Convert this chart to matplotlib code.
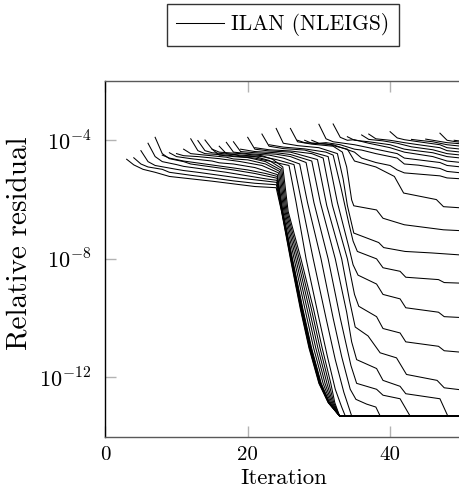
import matplotlib
matplotlib.use("Agg")
import matplotlib.pyplot as plt
from matplotlib.lines import Line2D

plt.rcParams["font.family"] = "cmr10"
plt.rcParams["mathtext.fontset"] = "cm"
plt.rcParams["axes.formatter.use_mathtext"] = True

# each curve: [iteration, log10(relative residual)] knots
curves_fast = [
    [[3, -4.64], [4, -4.83], [5.3, -4.98], [7, -5.08], [9, -5.22], [12, -5.3], [15, -5.38], [18, -5.47], [21, -5.56], [24.0, -5.6], [24.75, -6.4], [26.0, -8.0], [27.4, -9.7], [28.6, -11.0], [30.0, -12.2], [31.3, -12.85], [32.9, -13.3]],
    [[4, -4.59], [5, -4.8], [6, -4.9], [8, -4.98], [9, -5.08], [12, -5.18], [15, -5.27], [18, -5.37], [21, -5.45], [24.03, -5.5], [24.78, -6.4], [26.05, -8.0], [27.46, -9.7], [28.66, -11.0], [30.05, -12.2], [31.33, -12.85], [32.9, -13.3]],
    [[5, -4.35], [6, -4.72], [7, -4.85], [10, -4.98], [11, -5.02], [13, -5.08], [16, -5.18], [19, -5.28], [22, -5.36], [24.06, -5.42], [24.81, -6.4], [26.1, -8.0], [27.52, -9.7], [28.72, -11.0], [30.11, -12.2], [31.36, -12.85], [32.9, -13.3]],
    [[6, -4.10], [7, -4.55], [8, -4.72], [10, -4.82], [11, -4.88], [14, -4.98], [17, -5.08], [20, -5.2], [22.5, -5.3], [24.09, -5.35], [24.84, -6.4], [26.14, -8.0], [27.58, -9.7], [28.78, -11.0], [30.16, -12.2], [31.39, -12.85], [32.9, -13.3]],
    [[7, -3.90], [8, -4.45], [9, -4.62], [11, -4.72], [12, -4.8], [15, -4.9], [18, -5.0], [21, -5.12], [24.12, -5.28], [24.87, -6.4], [26.19, -8.0], [27.64, -9.7], [28.84, -11.0], [30.22, -12.2], [31.42, -12.85], [32.9, -13.3]],
    [[8, -4.5], [9, -4.6], [11, -4.7], [14, -4.8], [17, -4.9], [20, -5.0], [22.5, -5.12], [24.15, -5.22], [24.9, -6.4], [26.24, -8.0], [27.7, -9.7], [28.9, -11.0], [30.27, -12.2], [31.45, -12.85], [32.9, -13.3]],
    [[9, -4.42], [10, -4.55], [12, -4.62], [15, -4.7], [16, -4.76], [18, -4.8], [21, -4.92], [24.18, -5.16], [24.93, -6.4], [26.29, -8.0], [27.76, -9.7], [28.96, -11.0], [30.32, -12.2], [31.48, -12.85], [32.9, -13.3]],
    [[10, -4.45], [11, -4.52], [13, -4.55], [16, -4.62], [19, -4.72], [22, -4.85], [24.33, -5.1], [25.08, -6.4], [26.52, -8.0], [28.05, -9.7], [29.25, -11.0], [30.59, -12.2], [31.63, -12.85], [32.9, -13.3]],
    [[11, -4.30], [12, -4.45], [14, -4.5], [17, -4.57], [18, -4.63], [20, -4.66], [22.5, -4.8], [24.48, -5.05], [25.23, -6.4], [26.76, -8.0], [28.35, -9.7], [29.55, -11.0], [30.86, -12.2], [31.78, -12.85], [32.9, -13.3]],
    [[12, -3.95], [13, -4.35], [14, -4.45], [17, -4.5], [20, -4.58], [22.5, -4.72], [24.63, -5.0], [25.38, -6.4], [27.0, -8.0], [28.65, -9.7], [29.85, -11.0], [31.13, -12.2], [31.93, -12.85], [32.9, -13.3]],
    [[13, -4.01], [14, -4.35], [15, -4.42], [18, -4.48], [19, -4.53], [21, -4.55], [23, -4.68], [24.78, -4.95], [25.53, -6.4], [27.24, -8.0], [28.95, -9.7], [30.15, -11.0], [31.4, -12.2], [32.08, -12.85], [32.9, -13.3]],
    [[14, -3.99], [15, -4.3], [16, -4.4], [19, -4.45], [22, -4.52], [23.5, -4.64], [24.93, -4.9], [25.68, -6.4], [27.48, -8.0], [29.25, -9.7], [30.45, -11.0], [31.67, -12.2], [32.23, -12.85], [32.9, -13.3]],
]

curves_stairs = [
    [[15, -4.3], [16, -4.5], [18, -4.55], [21, -4.6], [23, -4.7], [25.8, -4.85], [26.8, -6.1], [28.2, -8.0], [30.0, -10.0], [31.2, -11.3], [32.3, -12.4], [33.2, -13.0], [33.7, -13.3]],
    [[16, -4.2], [17, -4.45], [19, -4.5], [22, -4.55], [24, -4.65], [26.5, -4.82], [27.5, -6.0], [29.2, -8.0], [31.0, -10.0], [32.3, -11.4], [33.5, -12.5], [34.6, -13.3]],
    [[17, -4.07], [18, -4.4], [20, -4.45], [23, -4.5], [25, -4.6], [27.3, -4.8], [28.4, -6.1], [30.3, -8.0], [32.0, -10.0], [33.2, -11.3], [34.4, -12.4], [35.2, -12.74], [36.7, -12.9], [38.0, -13.0], [38.6, -13.3]],
    [[18, -4.05], [19, -4.38], [21, -4.42], [24, -4.47], [26, -4.55], [28.2, -4.75], [29.3, -6.1], [31.3, -8.0], [33.0, -10.0], [34.5, -11.6], [35.3, -12.2], [38.1, -12.4], [39.0, -12.6], [41.4, -12.72], [42.8, -13.3]],
    [[19, -4.3], [21, -4.38], [24, -4.42], [26, -4.48], [29.0, -4.7], [30.2, -6.1], [32.3, -8.0], [33.9, -9.8], [34.6, -10.8], [35.3, -11.4], [38.1, -11.7], [39.0, -12.1], [41.4, -12.3], [42.2, -12.55], [47.0, -12.72], [48.1, -13.3]],
    [[20, -3.9], [21, -4.3], [23, -4.36], [26, -4.4], [29.8, -4.65], [31.1, -6.2], [33.2, -8.0], [34.3, -9.4], [35.1, -10.3], [36.9, -10.6], [38.6, -11.17], [40.9, -11.34], [42.3, -11.9], [46.6, -12.1], [47.6, -12.35], [50, -12.42]],
    [[21, -4.25], [23, -4.32], [26, -4.36], [29, -4.45], [30.6, -4.6], [31.9, -6.2], [34.0, -8.0], [35.0, -9.2], [35.6, -9.6], [38.1, -9.95], [39.0, -10.35], [41.4, -10.5], [42.2, -10.8], [46.8, -10.95], [47.6, -11.1], [50, -11.15]],
    [[22, -3.79], [23, -4.2], [25, -4.28], [28, -4.33], [31.3, -4.55], [32.6, -6.1], [34.2, -7.6], [34.8, -8.2], [35.5, -8.55], [38.1, -8.85], [39.0, -9.2], [41.4, -9.35], [42.2, -9.65], [46.8, -9.8], [47.6, -9.95], [50, -9.98]],
    [[23, -4.15], [25, -4.23], [28, -4.29], [31, -4.4], [32.0, -4.5], [33.1, -5.6], [34.2, -6.8], [34.8, -7.4], [35.4, -7.75], [38.1, -8.0], [39.0, -8.3], [41.4, -8.42], [42.2, -8.62], [46.8, -8.7], [47.6, -8.8], [50, -8.82]],
    [[24, -3.6], [25, -4.1], [27, -4.18], [30, -4.25], [32.6, -4.45], [33.4, -5.3], [34.0, -6.2], [34.9, -7.13], [38.4, -7.45], [39.1, -7.62], [42.1, -7.75], [45.8, -7.8], [49.4, -7.86], [50, -7.87]],
    [[26, -3.6], [27, -4.05], [29, -4.13], [32, -4.2], [33.3, -4.4], [33.9, -4.9], [34.6, -6.01], [34.9, -6.21], [38.1, -6.35], [39.0, -6.63], [42.0, -6.85], [47.5, -7.02], [50, -7.05]],
    [[27, -4.0], [28, -4.08], [31, -4.12], [34, -4.3], [35, -4.7], [38, -4.9], [40.6, -5.22], [41.9, -5.78], [46.5, -6.0], [47.5, -6.24], [50, -6.28]],
    [[28, -4.0], [29, -4.1], [32, -4.15], [35, -4.4], [36, -4.6], [38, -4.75], [40, -4.85], [41, -5.0], [42, -5.1], [47, -5.2], [48, -5.27], [50, -5.3]],
]

curves_band = [
    [[29, -4.0], [30, -4.1], [31, -4.08], [33, -4.15], [35, -4.3], [36, -4.33], [38, -4.45], [41, -4.6], [42, -4.8], [44, -4.84], [47, -4.95], [48, -5.05], [50, -5.1]],
    [[30, -3.46], [31, -3.95], [32, -4.05], [35, -4.15], [38, -4.3], [41, -4.45], [42, -4.6], [47, -4.75], [48, -4.85], [50, -4.9]],
    [[32, -3.45], [33, -3.9], [34, -4.0], [35, -3.98], [37, -4.1], [40, -4.25], [42, -4.4], [46, -4.55], [48, -4.7], [50, -4.75]],
    [[34, -3.88], [35, -4.0], [37, -4.05], [40, -4.15], [42, -4.3], [46, -4.42], [48, -4.55], [50, -4.6]],
    [[36, -3.82], [37, -3.97], [39, -4.02], [41, -4.1], [43, -4.22], [46, -4.32], [48, -4.45], [50, -4.5]],
    [[37, -3.79], [38, -3.95], [40, -4.0], [42, -4.08], [44, -4.15], [47, -4.25], [48, -4.35], [50, -4.4]],
    [[40, -3.71], [41, -3.92], [42, -3.98], [44, -4.05], [47, -4.15], [48, -4.25], [50, -4.3]],
    [[43, -3.97], [44, -4.0], [46, -4.05], [48, -4.15], [50, -4.2]],
    [[45, -3.96], [46, -4.0], [48, -4.08], [50, -4.12]],
    [[47, -3.76], [48, -4.0], [49, -4.04], [50, -4.07]],
    [[49, -4.0], [50, -4.03]],
]

floor_level = -13.3
last_iter = 50

fig = plt.figure(figsize=(4.59, 4.91), dpi=100)
ax = fig.add_axes([105.3 / 459, 54.3 / 491, 356 / 459, 355.7 / 491])

for curve in curves_fast + curves_stairs + curves_band:
    xs = [p[0] for p in curve]
    ys = [10 ** p[1] for p in curve]
    if curve[-1][1] <= floor_level and xs[-1] < last_iter:
        xs.append(last_iter)
        ys.append(10 ** floor_level)
    ax.plot(xs, ys, color="black", linewidth=0.75)

ax.set_yscale("log")
ax.set_xlim(0, 50)
ax.set_ylim(1e-14, 1e-2)
ax.set_xticks([0, 20, 40])
ax.set_xticklabels(["0", "20", "40"])
ax.set_yticks([1e-12, 1e-8, 1e-4])
ax.set_yticklabels([r"$10^{-12}$", r"$10^{-8}$", r"$10^{-4}$"])
ax.minorticks_off()
ax.tick_params(direction="in", length=8, width=1, color="0.7",
               top=True, labelsize=15, pad=7)
ax.tick_params(axis="y", labelsize=16, pad=10)
ax.spines["left"].set_linewidth(1.0)
for side in ["bottom", "top"]:
    ax.spines[side].set_linewidth(1.0)
    ax.spines[side].set_color("0.35")
ax.spines["right"].set_visible(False)

ax.set_xlabel("Iteration", fontsize=16.5, labelpad=3)
ax.set_ylabel("Relative residual", fontsize=21)
ax.yaxis.set_label_coords(-0.205, 0.545)

handle = Line2D([], [], color="black", linewidth=0.75)
leg = fig.legend([handle], ["ILAN (NLEIGS)"], loc="center",
                 bbox_to_anchor=(283 / 459, 1 - 25 / 491), fontsize=15.5,
                 frameon=True, fancybox=False, handlelength=2.2,
                 borderpad=0.45, handletextpad=0.35)
leg.get_frame().set_edgecolor("black")
leg.get_frame().set_linewidth(1.0)

fig.savefig("out.png", dpi=100)
